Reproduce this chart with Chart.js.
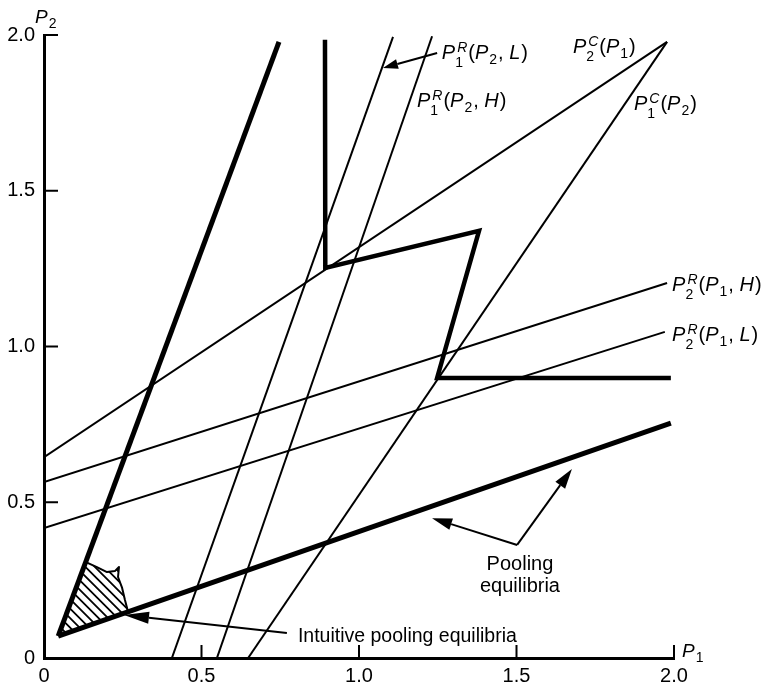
<!DOCTYPE html>
<html><head><meta charset="utf-8">
<script src="https://cdn.jsdelivr.net/npm/chart.js@4.4.0/dist/chart.umd.min.js"></script>
<style>html,body{margin:0;padding:0;background:#fff;}#wrap{width:769px;height:687px;position:relative;}</style>
</head><body><div id="wrap"><canvas id="c"></canvas></div>
<script>
// ---- data ----
const tickValues = [0, 0.5, 1.0, 1.5, 2.0];
const tickLabels = ['0', '0.5', '1.0', '1.5', '2.0'];
const poolingUpper = [{x:0.045,y:0.07},{x:0.746,y:1.978}];
const poolingLower = [{x:0.045,y:0.07},{x:1.990,y:0.754}];
const separatingPath = [{x:0.892,y:1.985},{x:0.893,y:1.252},{x:1.381,y:1.371},{x:1.248,y:0.899},{x:1.990,y:0.899}];
const p1R_L = [{x:0.406,y:0},{x:1.108,y:1.994}];
const p1R_H = [{x:0.549,y:0},{x:1.232,y:1.996}];
const p1C = [{x:0.648,y:0},{x:1.978,y:1.978}];
const p2C = [{x:0,y:0.645},{x:1.978,y:1.978}];
const p2R_H = [{x:0,y:0.565},{x:1.978,y:1.204}];
const p2R_L = [{x:0,y:0.417},{x:1.971,y:1.047}];
const intuitiveRegion = [{x:0.133,y:0.308},{x:0.168,y:0.292},{x:0.200,y:0.276},{x:0.225,y:0.279},{x:0.238,y:0.292},{x:0.235,y:0.260},{x:0.248,y:0.225},{x:0.257,y:0.186},{x:0.267,y:0.148},{x:0.045,y:0.07}];

// ---- annotations (anchor in data units) ----
const FAM = '"Liberation Sans", Arial, Helvetica, sans-serif';
const mathLabels = [
  {x:1.263,y:1.923,t:[['i','P'],['ss','R','1'],['n','('],['i','P'],['sub','2'],['n',', '],['i','L'],['n',')']]},
  {x:1.679,y:1.942,t:[['i','P'],['ss','C','2'],['n','('],['i','P'],['sub','1'],['n',')']]},
  {x:1.184,y:1.769,t:[['i','P'],['ss','R','1'],['n','('],['i','P'],['sub','2'],['n',', '],['i','H'],['n',')']]},
  {x:1.873,y:1.759,t:[['i','P'],['ss','C','1'],['n','('],['i','P'],['sub','2'],['n',')']]},
  {x:1.994,y:1.178,t:[['i','P'],['ss','R','2'],['n','('],['i','P'],['sub','1'],['n',', '],['i','H'],['n',')']]},
  {x:1.994,y:1.018,t:[['i','P'],['ss','R','2'],['n','('],['i','P'],['sub','1'],['n',', '],['i','L'],['n',')']]}
];
const arrows = [
  {from:{x:1.248,y:1.942}, to:{x:1.076,y:1.894}, len:15, hw:5},
  {from:{x:0.771,y:0.080}, to:{x:0.254,y:0.138}, len:25, hw:6},
  {from:{x:1.502,y:0.363}, to:{x:1.232,y:0.449}, len:20, hw:6},
  {from:{x:1.502,y:0.363}, to:{x:1.676,y:0.607}, len:20, hw:6}
];

function drawMath(ctx, x, y, tokens, size){
  const small = Math.round(size*0.72);
  let cx = x;
  ctx.textBaseline = 'alphabetic'; ctx.textAlign = 'left'; ctx.fillStyle = '#000';
  for (const t of tokens){
    if (t[0]==='i' || t[0]==='n'){
      ctx.font = (t[0]==='i'?'italic ':'') + size + 'px ' + FAM;
      ctx.fillText(t[1], cx, y); cx += ctx.measureText(t[1]).width + (t[0]==='i'?1:0);
    } else if (t[0]==='sub'){
      ctx.font = small + 'px ' + FAM;
      ctx.fillText(t[1], cx, y + 5); cx += ctx.measureText(t[1]).width + 1;
    } else if (t[0]==='ss'){
      ctx.font = 'italic ' + small + 'px ' + FAM;
      const w1 = ctx.measureText(t[1]).width;
      ctx.fillText(t[1], cx + 1, y - 7);
      ctx.font = small + 'px ' + FAM;
      const w2 = ctx.measureText(t[2]).width;
      ctx.fillText(t[2], cx - 1, y + 8);
      cx += Math.max(w1, w2) + 2;
    }
  }
}

const overlay = {
  id: 'overlay',
  afterDatasetsDraw(chart){
    const {ctx, scales:{x, y}, chartArea:ca} = chart;
    const px = v => x.getPixelForValue(v), py = v => y.getPixelForValue(v);
    // hatched region
    ctx.save();
    ctx.beginPath();
    intuitiveRegion.forEach((p,i)=>{ const X=px(p.x), Y=py(p.y); i?ctx.lineTo(X,Y):ctx.moveTo(X,Y); });
    ctx.closePath();
    ctx.save();
    ctx.clip();
    ctx.strokeStyle = '#000'; ctx.lineWidth = 1.8;
    const xs = intuitiveRegion.map(p=>px(p.x)), ys = intuitiveRegion.map(p=>py(p.y));
    const x0 = Math.min(...xs)-80, x1 = Math.max(...xs)+80, y0 = Math.min(...ys)-80, y1 = Math.max(...ys)+80;
    ctx.beginPath();
    for (let k = x0 - (y1-y0); k < x1; k += 9.5){
      ctx.moveTo(k, y0); ctx.lineTo(k + (y1-y0), y1);
    }
    ctx.stroke();
    ctx.restore();
    // curved boundary
    ctx.beginPath();
    for (let i=0;i<intuitiveRegion.length-1;i++){
      const X=px(intuitiveRegion[i].x), Y=py(intuitiveRegion[i].y);
      i?ctx.lineTo(X,Y):ctx.moveTo(X,Y);
    }
    ctx.lineWidth = 2; ctx.lineJoin = 'round'; ctx.strokeStyle = '#000';
    ctx.stroke();
    ctx.restore();

    // arrows
    ctx.save();
    ctx.strokeStyle = '#000'; ctx.fillStyle = '#000'; ctx.lineWidth = 2;
    for (const a of arrows){
      const X0=px(a.from.x), Y0=py(a.from.y), X1=px(a.to.x), Y1=py(a.to.y);
      const ang = Math.atan2(Y1-Y0, X1-X0);
      const bx = X1 - a.len*Math.cos(ang), by = Y1 - a.len*Math.sin(ang);
      ctx.beginPath(); ctx.moveTo(X0,Y0); ctx.lineTo(bx,by); ctx.stroke();
      ctx.beginPath();
      ctx.moveTo(X1,Y1);
      ctx.lineTo(bx + a.hw*Math.sin(ang), by - a.hw*Math.cos(ang));
      ctx.lineTo(bx - a.hw*Math.sin(ang), by + a.hw*Math.cos(ang));
      ctx.closePath(); ctx.fill();
    }
    ctx.restore();

    // inward ticks
    ctx.save();
    ctx.strokeStyle = '#000'; ctx.lineWidth = 2;
    ctx.beginPath();
    tickValues.forEach(v=>{ if (v>0){
      ctx.moveTo(px(v), ca.bottom); ctx.lineTo(px(v), ca.bottom-13);
      ctx.moveTo(ca.left, py(v)); ctx.lineTo(ca.left+14, py(v));
    }});
    ctx.stroke();
    ctx.restore();

    // labels
    ctx.save();
    mathLabels.forEach(l => drawMath(ctx, px(l.x), py(l.y), l.t, 20));
    ctx.font = '20px ' + FAM; ctx.fillStyle = '#000'; ctx.textAlign = 'center'; ctx.textBaseline = 'alphabetic';
    ctx.fillText('Pooling', px(1.511), py(0.283));
    ctx.fillText('equilibria', px(1.511), py(0.212));
    ctx.textAlign = 'left';
    ctx.font = '19.5px ' + FAM;
    ctx.fillText('Intuitive pooling equilibria', px(0.806), py(0.051));
    // axis titles
    drawMath(ctx, ca.left - 9, ca.top - 12, [['i','P'],['sub','2']], 19);
    drawMath(ctx, ca.right + 8, ca.bottom - 1, [['i','P'],['sub','1']], 19);
    ctx.restore();
  }
};

function ds(data, w){
  return {data, showLine:true, pointRadius:0, borderColor:'#000', borderWidth:w, fill:false,
          borderJoinStyle:'miter', borderCapStyle:'butt', tension:0};
}

new Chart(document.getElementById('c'), {
  type: 'scatter',
  data: { datasets: [
    ds(p1R_L, 2), ds(p1R_H, 2), ds(p1C, 2), ds(p2C, 2), ds(p2R_H, 2), ds(p2R_L, 2),
    ds(poolingUpper, 5), ds(poolingLower, 5), ds(separatingPath, 4.5)
  ]},
  options: {
    responsive: true, maintainAspectRatio: false, animation: false,
    layout: { padding: {top:35, right:95, left:0, bottom:0} },
    plugins: { legend:{display:false}, tooltip:{enabled:false} },
    scales: {
      x: { type:'linear', min:0, max:2,
        afterBuildTicks: s => { s.ticks = tickValues.map(v=>({value:v})); },
        afterFit: s => { s.height = 29; },
        ticks: { callback: (v,i) => tickLabels[i], color:'#000', font:{family:FAM, size:20}, padding:6, maxRotation:0 },
        grid: { display:true, drawOnChartArea:false, drawTicks:false },
        border: { display:true, color:'#000', width:3 } },
      y: { type:'linear', min:0, max:2,
        afterBuildTicks: s => { s.ticks = tickValues.map(v=>({value:v})); },
        afterFit: s => { s.width = 44; },
        ticks: { callback: (v,i) => tickLabels[i], color:'#000', font:{family:FAM, size:20}, padding:9 },
        grid: { display:true, drawOnChartArea:false, drawTicks:false },
        border: { display:true, color:'#000', width:3 } }
    }
  },
  plugins: [overlay]
});
</script></body></html>
